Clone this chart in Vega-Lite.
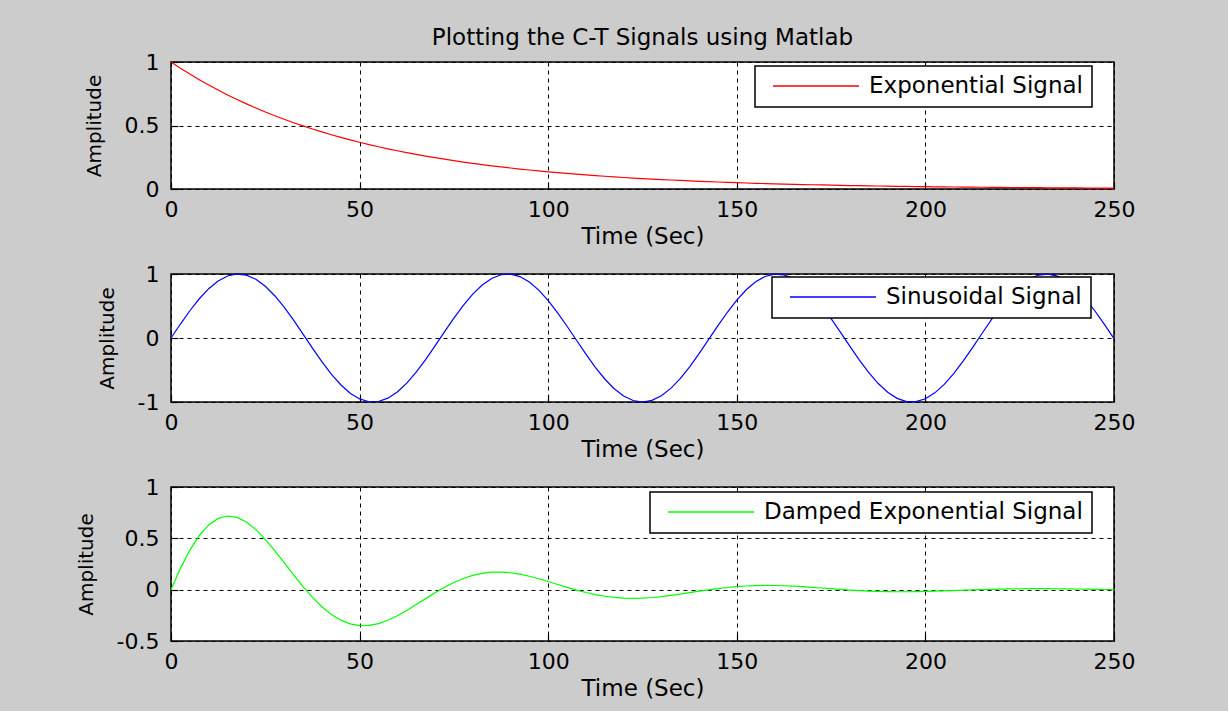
{
  "$schema": "https://vega.github.io/schema/vega-lite/v6.json",
  "background": "#cccccc",
  "padding": {"left": 75, "top": 26, "right": 92, "bottom": 10},
  "autosize": {"type": "pad"},
  "spacing": 85,
  "bounds": "flush",
  "config": {
    "font": "DejaVu Sans",
    "view": {"fill": "white", "stroke": "#000000", "strokeWidth": 1.5},
    "axis": {
      "domain": false,
      "ticks": true,
      "tickSize": -7,
      "tickColor": "#000000",
      "tickWidth": 1.2,
      "grid": true,
      "gridColor": "#000000",
      "gridDash": [4, 4],
      "gridWidth": 1,
      "gridOpacity": 1,
      "labelFont": "DejaVu Sans",
      "labelFontSize": 22,
      "labelColor": "#000000",
      "labelFlush": false,
      "labelOverlap": false,
      "titleFont": "DejaVu Sans",
      "titleFontWeight": "normal",
      "titleColor": "#000000"
    },
    "axisX": {"labelPadding": 17, "titleFontSize": 23, "titlePadding": 5},
    "axisY": {"labelPadding": 19, "titleFontSize": 20, "titlePadding": 20},
    "legend": {
      "orient": "none",
      "strokeColor": "#000000",
      "strokeWidth": 1.5,
      "fillColor": "#ffffff",
      "padding": 9,
      "clipHeight": 22,
      "symbolType": "stroke",
      "symbolSize": 7396,
      "symbolOffset": 8,
      "symbolStrokeWidth": 1.5,
      "labelFont": "DejaVu Sans",
      "labelFontSize": 23,
      "labelColor": "#000000",
      "labelOffset": 9,
      "labelLimit": 600,
      "title": null
    },
    "title": {"font": "DejaVu Sans", "fontSize": 23, "fontWeight": "normal", "color": "#000000"}
  },
  "resolve": {"scale": {"color": "independent"}, "legend": {"color": "independent"}},
  "datasets": {
    "sig": [
      {"t": 0, "e": 1, "s": 0, "d": 0},
      {"t": 2.5, "e": 0.9512, "s": 0.2182, "d": 0.2076},
      {"t": 5, "e": 0.9048, "s": 0.4259, "d": 0.3854},
      {"t": 7.5, "e": 0.8607, "s": 0.6131, "d": 0.5277},
      {"t": 10, "e": 0.8187, "s": 0.7707, "d": 0.631},
      {"t": 12.5, "e": 0.7788, "s": 0.8912, "d": 0.6941},
      {"t": 15, "e": 0.7408, "s": 0.9687, "d": 0.7176},
      {"t": 17.5, "e": 0.7047, "s": 0.9995, "d": 0.7043},
      {"t": 20, "e": 0.6703, "s": 0.9822, "d": 0.6584},
      {"t": 22.5, "e": 0.6376, "s": 0.9174, "d": 0.5849},
      {"t": 25, "e": 0.6065, "s": 0.8085, "d": 0.4904},
      {"t": 27.5, "e": 0.5769, "s": 0.6606, "d": 0.3811},
      {"t": 30, "e": 0.5488, "s": 0.4808, "d": 0.2639},
      {"t": 32.5, "e": 0.522, "s": 0.2779, "d": 0.1451},
      {"t": 35, "e": 0.4966, "s": 0.0616, "d": 0.0306},
      {"t": 37.5, "e": 0.4724, "s": -0.1577, "d": -0.0745},
      {"t": 40, "e": 0.4493, "s": -0.3694, "d": -0.166},
      {"t": 42.5, "e": 0.4274, "s": -0.5633, "d": -0.2408},
      {"t": 45, "e": 0.4066, "s": -0.7301, "d": -0.2969},
      {"t": 47.5, "e": 0.3867, "s": -0.8616, "d": -0.3332},
      {"t": 50, "e": 0.3679, "s": -0.9516, "d": -0.3501},
      {"t": 52.5, "e": 0.3499, "s": -0.9957, "d": -0.3484},
      {"t": 55, "e": 0.3329, "s": -0.9919, "d": -0.3302},
      {"t": 57.5, "e": 0.3166, "s": -0.9402, "d": -0.2977},
      {"t": 60, "e": 0.3012, "s": -0.8432, "d": -0.254},
      {"t": 62.5, "e": 0.2865, "s": -0.7055, "d": -0.2021},
      {"t": 65, "e": 0.2725, "s": -0.5339, "d": -0.1455},
      {"t": 67.5, "e": 0.2592, "s": -0.3365, "d": -0.0872},
      {"t": 70, "e": 0.2466, "s": -0.1229, "d": -0.0303},
      {"t": 72.5, "e": 0.2346, "s": 0.0966, "d": 0.0227},
      {"t": 75, "e": 0.2231, "s": 0.3115, "d": 0.0695},
      {"t": 77.5, "e": 0.2122, "s": 0.5114, "d": 0.1085},
      {"t": 80, "e": 0.2019, "s": 0.6866, "d": 0.1386},
      {"t": 82.5, "e": 0.192, "s": 0.8287, "d": 0.1591},
      {"t": 85, "e": 0.1827, "s": 0.9309, "d": 0.1701},
      {"t": 87.5, "e": 0.1738, "s": 0.9882, "d": 0.1718},
      {"t": 90, "e": 0.1653, "s": 0.9978, "d": 0.1649},
      {"t": 92.5, "e": 0.1572, "s": 0.9594, "d": 0.1508},
      {"t": 95, "e": 0.1496, "s": 0.8747, "d": 0.1309},
      {"t": 97.5, "e": 0.1423, "s": 0.7478, "d": 0.1064},
      {"t": 100, "e": 0.1353, "s": 0.5849, "d": 0.0791},
      {"t": 102.5, "e": 0.1287, "s": 0.3938, "d": 0.0507},
      {"t": 105, "e": 0.1225, "s": 0.1837, "d": 0.0225},
      {"t": 107.5, "e": 0.1165, "s": -0.0352, "d": -0.0041},
      {"t": 110, "e": 0.1108, "s": -0.2524, "d": -0.028},
      {"t": 112.5, "e": 0.1054, "s": -0.4575, "d": -0.0482},
      {"t": 115, "e": 0.1003, "s": -0.6405, "d": -0.0642},
      {"t": 117.5, "e": 0.0954, "s": -0.7927, "d": -0.0756},
      {"t": 120, "e": 0.0907, "s": -0.9066, "d": -0.0822},
      {"t": 122.5, "e": 0.0863, "s": -0.9769, "d": -0.0843},
      {"t": 125, "e": 0.0821, "s": -1.0, "d": -0.0821},
      {"t": 127.5, "e": 0.0781, "s": -0.9749, "d": -0.0761},
      {"t": 130, "e": 0.0743, "s": -0.9029, "d": -0.0671},
      {"t": 132.5, "e": 0.0707, "s": -0.7873, "d": -0.0557},
      {"t": 135, "e": 0.0672, "s": -0.6338, "d": -0.0426},
      {"t": 137.5, "e": 0.0639, "s": -0.4497, "d": -0.0287},
      {"t": 140, "e": 0.0608, "s": -0.2439, "d": -0.0148},
      {"t": 142.5, "e": 0.0578, "s": -0.0264, "d": -0.0015},
      {"t": 145, "e": 0.055, "s": 0.1924, "d": 0.0106},
      {"t": 147.5, "e": 0.0523, "s": 0.4019, "d": 0.021},
      {"t": 150, "e": 0.0498, "s": 0.5921, "d": 0.0295},
      {"t": 152.5, "e": 0.0474, "s": 0.7536, "d": 0.0357},
      {"t": 155, "e": 0.045, "s": 0.8789, "d": 0.0396},
      {"t": 157.5, "e": 0.0429, "s": 0.9618, "d": 0.0413},
      {"t": 160, "e": 0.0408, "s": 0.9984, "d": 0.0407},
      {"t": 162.5, "e": 0.0388, "s": 0.9868, "d": 0.0383},
      {"t": 165, "e": 0.0369, "s": 0.9276, "d": 0.0342},
      {"t": 167.5, "e": 0.0351, "s": 0.8238, "d": 0.0289},
      {"t": 170, "e": 0.0334, "s": 0.6802, "d": 0.0227},
      {"t": 172.5, "e": 0.0317, "s": 0.5038, "d": 0.016},
      {"t": 175, "e": 0.0302, "s": 0.3032, "d": 0.0092},
      {"t": 177.5, "e": 0.0287, "s": 0.0879, "d": 0.0025},
      {"t": 180, "e": 0.0273, "s": -0.1316, "d": -0.0036},
      {"t": 182.5, "e": 0.026, "s": -0.3448, "d": -0.009},
      {"t": 185, "e": 0.0247, "s": -0.5413, "d": -0.0134},
      {"t": 187.5, "e": 0.0235, "s": -0.7118, "d": -0.0167},
      {"t": 190, "e": 0.0224, "s": -0.8479, "d": -0.019},
      {"t": 192.5, "e": 0.0213, "s": -0.9432, "d": -0.0201},
      {"t": 195, "e": 0.0202, "s": -0.993, "d": -0.0201},
      {"t": 197.5, "e": 0.0193, "s": -0.9949, "d": -0.0192},
      {"t": 200, "e": 0.0183, "s": -0.9489, "d": -0.0174},
      {"t": 202.5, "e": 0.0174, "s": -0.8571, "d": -0.0149},
      {"t": 205, "e": 0.0166, "s": -0.724, "d": -0.012},
      {"t": 207.5, "e": 0.0158, "s": -0.556, "d": -0.0088},
      {"t": 210, "e": 0.015, "s": -0.3613, "d": -0.0054},
      {"t": 212.5, "e": 0.0143, "s": -0.149, "d": -0.0021},
      {"t": 215, "e": 0.0136, "s": 0.0703, "d": 0.001},
      {"t": 217.5, "e": 0.0129, "s": 0.2863, "d": 0.0037},
      {"t": 220, "e": 0.0123, "s": 0.4885, "d": 0.006},
      {"t": 222.5, "e": 0.0117, "s": 0.6672, "d": 0.0078},
      {"t": 225, "e": 0.0111, "s": 0.8136, "d": 0.009},
      {"t": 227.5, "e": 0.0106, "s": 0.9209, "d": 0.0098},
      {"t": 230, "e": 0.0101, "s": 0.9838, "d": 0.0099},
      {"t": 232.5, "e": 0.0096, "s": 0.9992, "d": 0.0096},
      {"t": 235, "e": 0.0091, "s": 0.9665, "d": 0.0088},
      {"t": 237.5, "e": 0.0087, "s": 0.8872, "d": 0.0077},
      {"t": 240, "e": 0.0082, "s": 0.7651, "d": 0.0063},
      {"t": 242.5, "e": 0.0078, "s": 0.6061, "d": 0.0047},
      {"t": 245, "e": 0.0074, "s": 0.418, "d": 0.0031},
      {"t": 247.5, "e": 0.0071, "s": 0.2096, "d": 0.0015},
      {"t": 250, "e": 0.0067, "s": -0.0088, "d": -0.0001}
    ]
  },
  "vconcat": [
    {
      "width": 943,
      "height": 127,
      "title": {"text": "Plotting the C-T Signals using Matlab", "anchor": "middle", "frame": "group", "offset": 1},
      "data": {"name": "sig"},
      "mark": {"type": "line", "strokeWidth": 1.2},
      "encoding": {
        "x": {"field": "t", "type": "quantitative", "scale": {"domain": [0, 250], "nice": false, "zero": false}, "axis": {"values": [0, 50, 100, 150, 200, 250], "title": "Time (Sec)"}},
        "y": {"field": "e", "type": "quantitative", "scale": {"domain": [0, 1], "nice": false}, "axis": {"values": [0, 0.5, 1], "labelExpr": "toString(datum.value)", "title": "Amplitude"}},
        "color": {"datum": "Exponential Signal", "type": "nominal", "scale": {"domain": ["Exponential Signal"], "range": ["#ff0000"]}, "legend": {"legendX": 584, "legendY": 4}}
      }
    },
    {
      "width": 943,
      "height": 128,
      "data": {"name": "sig"},
      "mark": {"type": "line", "strokeWidth": 1.2},
      "encoding": {
        "x": {"field": "t", "type": "quantitative", "scale": {"domain": [0, 250], "nice": false, "zero": false}, "axis": {"values": [0, 50, 100, 150, 200, 250], "title": "Time (Sec)"}},
        "y": {"field": "s", "type": "quantitative", "scale": {"domain": [-1, 1], "nice": false}, "axis": {"values": [-1, 0, 1], "labelExpr": "toString(datum.value)", "title": "Amplitude"}},
        "color": {"datum": "Sinusoidal Signal", "type": "nominal", "scale": {"domain": ["Sinusoidal Signal"], "range": ["#0000ff"]}, "legend": {"legendX": 601, "legendY": 3}}
      }
    },
    {
      "width": 943,
      "height": 154,
      "data": {"name": "sig"},
      "mark": {"type": "line", "strokeWidth": 1.2},
      "encoding": {
        "x": {"field": "t", "type": "quantitative", "scale": {"domain": [0, 250], "nice": false, "zero": false}, "axis": {"values": [0, 50, 100, 150, 200, 250], "title": "Time (Sec)"}},
        "y": {"field": "d", "type": "quantitative", "scale": {"domain": [-0.5, 1], "nice": false}, "axis": {"values": [-0.5, 0, 0.5, 1], "labelExpr": "toString(datum.value)", "title": "Amplitude"}},
        "color": {"datum": "Damped Exponential Signal", "type": "nominal", "scale": {"domain": ["Damped Exponential Signal"], "range": ["#00ff00"]}, "legend": {"legendX": 479, "legendY": 5}}
      }
    }
  ]
}
